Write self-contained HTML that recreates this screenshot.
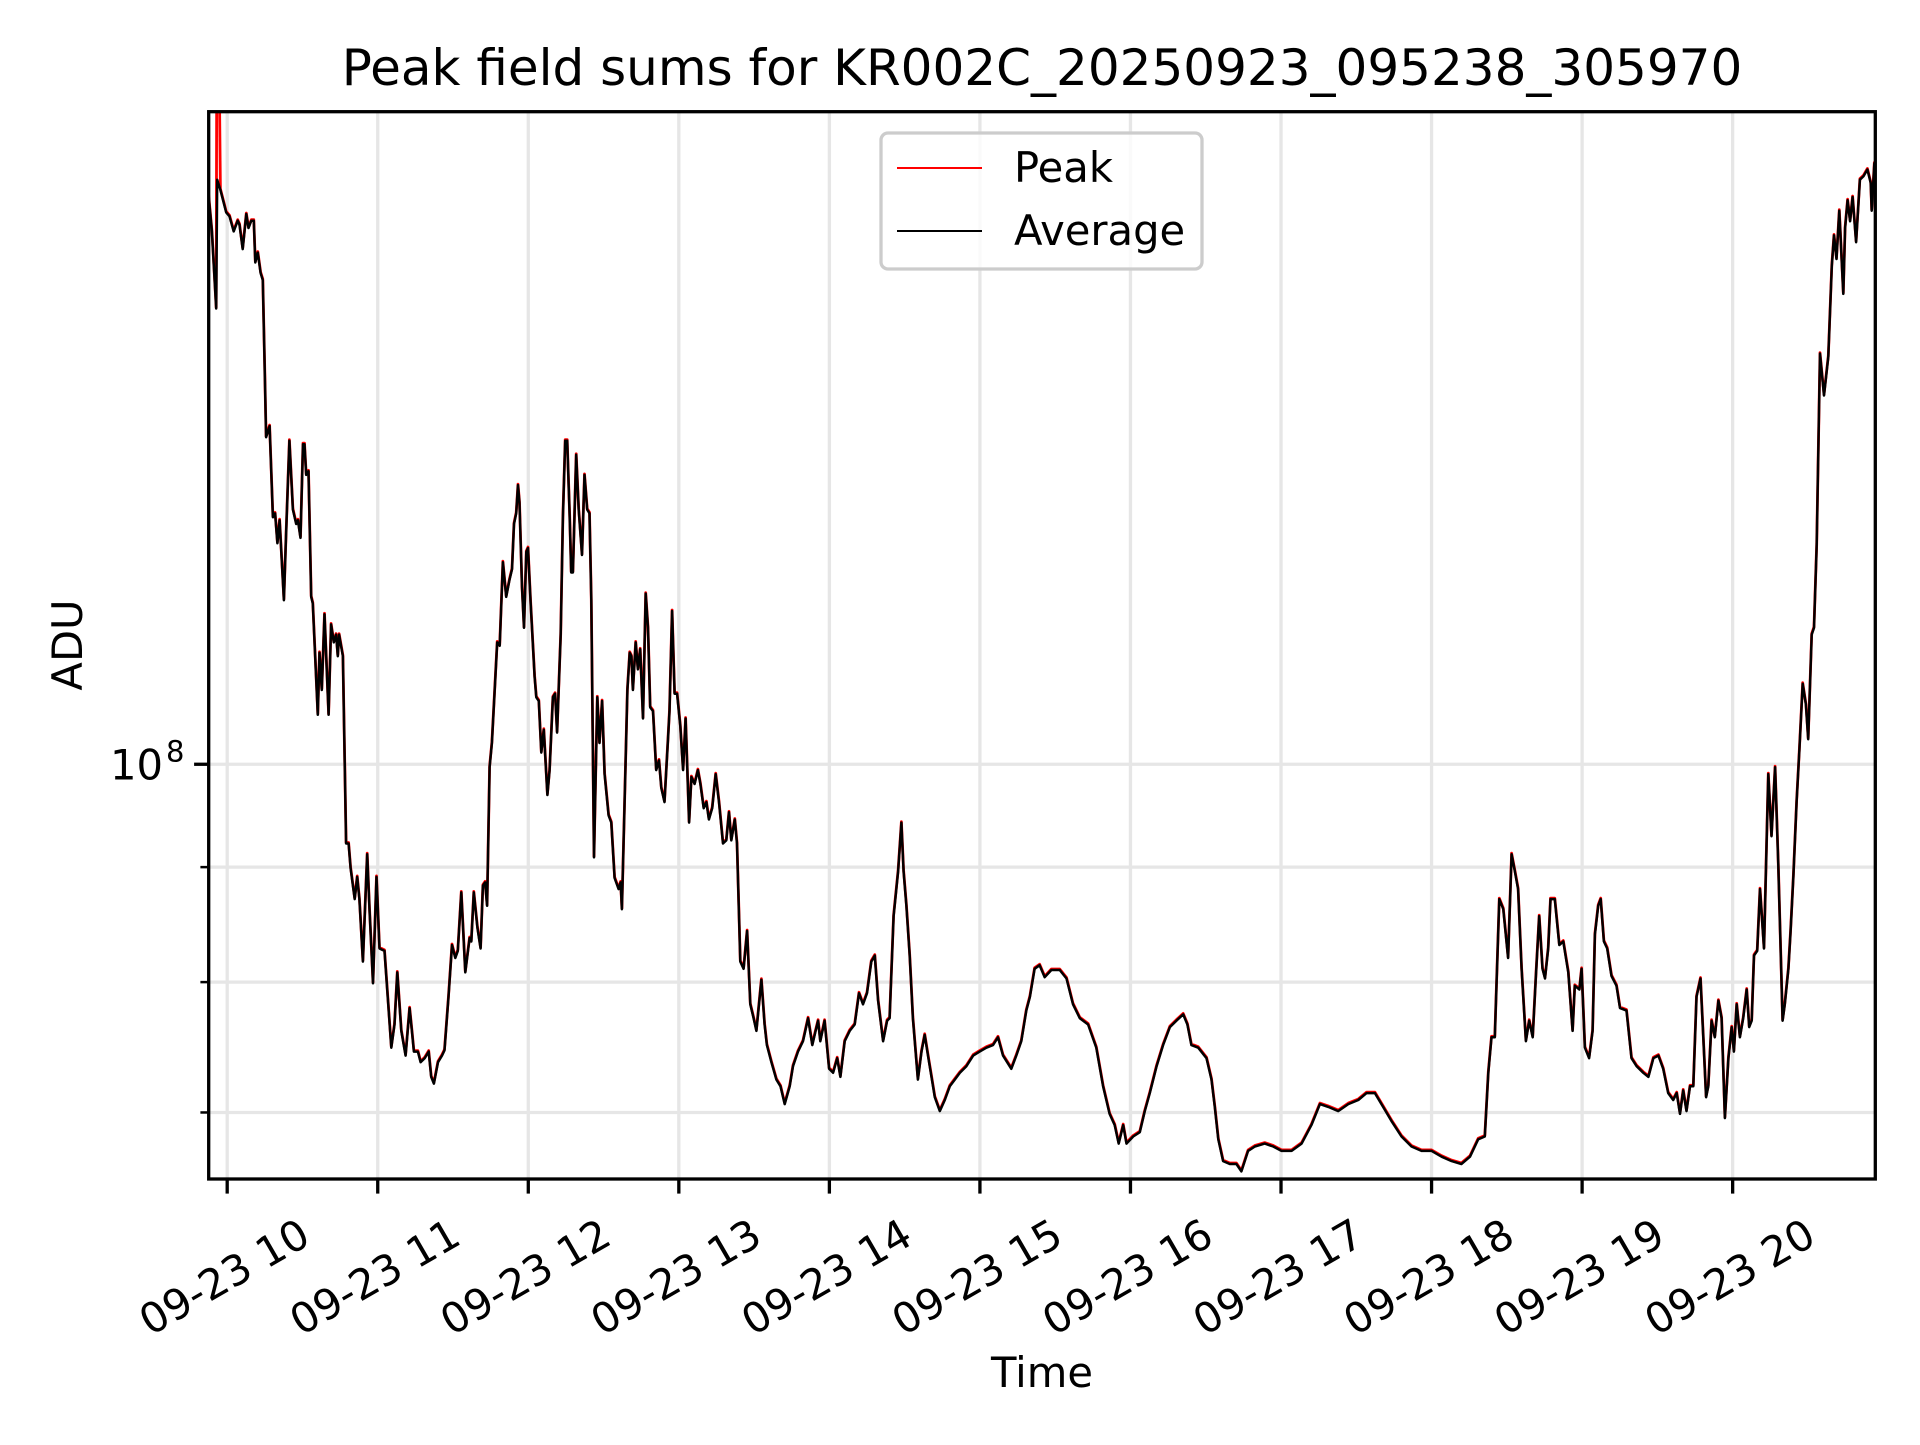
<!DOCTYPE html>
<html>
<head>
<meta charset="utf-8">
<style>
  html, body { margin: 0; padding: 0; background: #ffffff; }
  body { width: 1920px; height: 1440px; overflow: hidden; }
  svg text { font-family: "DejaVu Sans", "Liberation Sans", sans-serif; fill: #000; }
</style>
</head>
<body>
<svg id="chart" width="1920" height="1440" viewBox="0 0 1920 1440" xmlns="http://www.w3.org/2000/svg">
  <rect x="0" y="0" width="1920" height="1440" fill="#ffffff"/>
  <defs>
    <clipPath id="plotClip"><rect x="208.7" y="111.7" width="1666.6" height="1067.3"/></clipPath>
  </defs>
  <g id="grid"></g>
  <g id="series" clip-path="url(#plotClip)"></g>
  <rect x="208.7" y="111.7" width="1666.6" height="1067.3" fill="none" stroke="#000" stroke-width="3.3"/>
  <g id="xticks"></g>
  <g id="yticks"></g>
  <text x="1042" y="85" font-size="50" text-anchor="middle">Peak field sums for KR002C_20250923_095238_305970</text>
  <text x="1042" y="1387" font-size="41.7" text-anchor="middle">Time</text>
  <text x="0" y="0" font-size="41.7" text-anchor="middle" transform="translate(82,645) rotate(-90)">ADU</text>
  <g>
    <rect x="881" y="133" width="321" height="136" rx="7" ry="7" fill="#ffffff" fill-opacity="0.8" stroke="#cccccc" stroke-width="3.3"/>
    <line x1="897" y1="168" x2="982" y2="168" stroke="#ff0000" stroke-width="2"/>
    <text x="1014" y="182" font-size="41.7">Peak</text>
    <line x1="897" y1="231" x2="982" y2="231" stroke="#000000" stroke-width="2"/>
    <text x="1014" y="245" font-size="41.7">Average</text>
  </g>
</svg>
<script>
// time in minutes since 09:00 on 2025-09-23
const timesMin = [52.5,53.9,55.6,56.0,57.3,59.6,60.9,62.6,64.2,64.9,66.2,67.6,68.5,69.6,70.6,71.2,72.2,73.3,74.2,74.9,75.5,76.9,78.2,79.1,80.0,80.9,82.6,83.5,84.8,86.2,87.5,88.2,89.2,90.2,90.8,91.5,92.4,93.5,94.1,96.1,96.8,97.7,98.8,100.4,101.4,102.5,103.4,104.1,104.6,106.1,107.4,108.4,109.2,110.8,111.8,112.7,114.1,115.8,116.7,118.1,119.5,120.7,122.7,125.4,126.7,127.8,129.4,131.1,132.7,133.6,134.4,136.0,137.1,138.7,140.3,141.3,142.4,144.0,145.6,146.6,148.2,149.6,150.9,151.9,153.3,154.9,156.6,157.3,158.3,159.7,161.0,161.9,162.8,163.6,164.6,165.5,166.6,167.6,168.6,169.9,171.2,172.5,173.5,174.3,175.2,175.9,176.5,177.5,178.3,179.2,179.9,180.9,182.5,183.2,184.2,185.2,186.2,187.6,188.5,189.8,190.7,191.5,192.9,193.8,194.7,195.5,196.5,197.1,197.8,199.1,200.1,201.4,202.4,203.5,204.4,205.1,206.2,207.5,208.4,209.4,210.4,212.0,213.1,214.4,216.0,216.8,217.3,218.4,219.5,220.4,221.1,221.7,
222.8,223.7,224.6,225.7,226.8,227.7,228.6,229.7,231.0,232.1,233.0,234.3,235.7,236.3,237.3,238.3,239.3,240.6,241.7,242.7,244.1,245.0,246.3,247.6,248.6,249.9,251.0,252.0,253.3,254.7,256.0,257.6,258.9,260.0,260.9,262.3,263.2,264.5,265.8,267.2,268.5,269.8,270.9,272.9,274.2,275.1,276.9,278.9,280.5,282.2,284.2,285.5,287.5,289.5,291.5,293.2,294.5,295.5,296.4,298.1,299.9,301.5,303.1,304.4,306.1,308.1,310.1,311.8,313.4,315.0,316.7,318.1,319.4,321.4,323.0,324.0,325.6,327.4,328.7,329.6,330.7,332.0,333.3,335.3,336.7,338.0,339.3,340.7,342.0,344.0,346.0,348.0,350.0,352.0,354.6,357.3,359.9,362.6,365.2,367.2,369.2,372.5,374.5,376.5,378.5,379.9,381.8,383.8,385.8,388.5,391.8,
394.5,397.1,399.8,403.1,406.4,409.1,411.7,413.7,415.3,417.1,418.4,421.1,423.7,425.7,427.7,430.4,433.0,435.7,438.3,441.0,442.7,444.3,447.0,450.3,452.3,453.6,455.0,456.9,459.6,462.2,464.2,466.9,469.6,473.5,476.9,480.2,484.2,488.2,492.1,495.5,498.8,502.8,506.8,510.8,514.1,517.4,520.7,524.0,528.0,532.0,536.0,540.0,544.0,548.0,551.9,555.3,558.6,
561.2,562.6,563.9,565.2,567.0,568.6,570.5,571.9,573.2,574.5,575.9,577.6,578.9,580.3,581.6,582.9,584.2,585.2,586.5,587.4,589.1,590.9,592.5,594.5,596.2,597.1,598.9,599.8,601.1,602.8,604.2,605.1,606.4,607.4,608.7,610.0,611.7,613.7,615.1,617.7,619.7,621.7,624.4,626.4,628.4,630.4,632.3,634.3,636.3,637.7,639.0,640.3,641.6,643.0,644.3,645.6,647.2,648.3,649.4,650.3,651.6,652.9,654.3,655.6,656.9,658.3,659.6,660.5,661.6,662.9,664.2,665.6,666.6,667.6,668.5,669.8,670.9,672.5,674.2,675.5,676.9,678.2,679.9,680.8,682.2,683.1,684.2,685.5,686.6,687.9,689.2,690.1,691.5,692.4,693.5,694.8,696.4,698.1,699.5,700.4,701.4,702.5,704.1,704.8,705.8,706.8,707.8,709.2,710.7,712.1,713.7,715.0,715.4,716.5];
// average field sum in units of 1e7 ADU
const avgValues = [17.95,17.26,15.95,18.20,18.01,17.60,17.53,17.26,17.45,17.38,16.95,17.57,17.32,17.45,17.45,16.72,16.89,16.54,16.42,15.07,13.98,14.14,12.88,12.93,12.54,12.84,11.83,12.70,13.93,12.98,12.79,12.84,12.61,13.88,13.88,13.45,13.50,11.87,11.79,10.52,11.21,10.79,11.66,10.52,11.54,11.33,11.42,11.17,11.42,11.17,9.22,9.22,8.99,8.71,8.91,8.71,8.17,9.12,8.62,7.99,8.91,8.28,8.26,7.48,7.66,8.08,7.61,7.42,7.79,7.61,7.45,7.45,7.37,7.40,7.45,7.26,7.21,7.37,7.42,7.46,7.88,8.31,8.20,8.26,8.77,8.08,8.37,8.34,8.77,8.46,8.28,8.83,8.86,8.65,9.97,10.22,10.79,11.33,11.29,12.30,11.87,12.08,12.21,12.79,12.93,13.31,13.07,11.99,11.50,12.43,12.48,11.83,10.94,10.71,10.67,10.12,10.36,9.69,9.94,10.71,10.75,10.33,11.42,12.88,13.93,13.93,12.88,12.17,12.17,13.73,12.98,12.39,13.45,12.98,12.93,11.83,9.09,10.71,10.22,10.67,9.90,9.49,9.42,8.90,8.80,8.86,8.62,9.62,10.79,11.21,11.17,10.79,
11.33,11.02,11.25,10.48,11.91,11.50,10.60,10.56,9.94,10.04,9.76,9.62,10.26,10.56,11.70,10.75,10.75,10.40,9.94,10.48,9.42,9.87,9.80,9.94,9.80,9.56,9.62,9.45,9.56,9.90,9.62,9.22,9.25,9.52,9.25,9.45,9.22,8.17,8.11,8.43,7.82,7.71,7.61,8.02,7.66,7.50,7.37,7.24,7.19,7.06,7.19,7.34,7.45,7.53,7.71,7.50,7.61,7.69,7.53,7.69,7.32,7.29,7.40,7.26,7.53,7.61,7.66,7.91,7.82,7.91,8.17,8.22,7.85,7.53,7.69,7.71,8.56,8.96,9.42,8.96,8.65,8.22,7.71,7.24,7.45,7.58,7.42,7.26,7.11,7.01,7.09,7.19,7.24,7.29,7.34,7.42,7.45,7.48,7.50,7.56,7.42,7.32,7.42,7.53,7.77,7.88,8.11,8.14,8.04,8.10,8.10,
8.03,7.82,7.71,7.66,7.48,7.19,6.99,6.91,6.78,6.91,6.78,6.83,6.86,7.01,7.14,7.34,7.50,7.64,7.69,7.74,7.66,7.50,7.48,7.40,7.24,7.04,6.81,6.66,6.64,6.64,6.59,6.73,6.76,6.78,6.76,6.73,6.73,6.78,6.91,7.06,7.04,7.01,7.06,7.09,7.14,7.14,7.04,6.94,6.83,6.76,6.73,6.73,6.69,6.66,6.64,6.69,6.81,
6.83,7.29,7.56,7.56,8.71,8.62,8.20,9.12,8.96,8.80,8.11,7.53,7.69,7.56,8.05,8.56,8.11,8.03,8.28,8.71,8.71,8.31,8.34,8.08,7.61,7.97,7.94,8.11,7.48,7.40,7.61,8.40,8.65,8.71,8.34,8.28,8.05,7.97,7.79,7.77,7.40,7.34,7.29,7.26,7.40,7.42,7.32,7.14,7.09,7.14,6.99,7.16,7.01,7.19,7.19,7.88,8.03,7.56,7.11,7.19,7.69,7.56,7.85,7.71,6.96,7.40,7.64,7.45,7.82,7.56,7.71,7.94,7.64,7.69,8.22,8.26,8.80,8.28,9.90,9.29,9.97,9.02,7.69,7.82,8.11,8.43,8.92,9.62,10.15,10.86,10.63,10.26,11.42,11.50,12.52,15.23,14.59,15.18,16.66,17.19,16.78,17.63,16.19,17.32,17.82,17.44,17.88,17.07,18.20,18.26,18.39,18.14,17.63,18.52];
// peak series follows the average except the start-up spike
const peakSpikeIndex = [3];
const peakSpikeValue = [25.0];
const hourTickLabels = ["09-23 10","09-23 11","09-23 12","09-23 13","09-23 14","09-23 15","09-23 16","09-23 17","09-23 18","09-23 19","09-23 20"];
const hourTickMinutes = [60,120,180,240,300,360,420,480,540,600,660];
const yMajorTicks = [10];          // 1e8 in units of 1e7
const yMinorTicks = [7, 8, 9];     // 7e7, 8e7, 9e7
const UNIT = 1e7;

const peakValues = avgValues.slice();
peakSpikeIndex.forEach((idx, k) => { peakValues[idx] = peakSpikeValue[k]; });

const AX = {left: 208.7, right: 1875.3, top: 111.7, bottom: 1179};
const X_DOMAIN = [52.63, 716.85];
const Y_LOG_DOMAIN = [7.8155, 8.2903];
function xScale(m) { return AX.left + (m - X_DOMAIN[0]) / (X_DOMAIN[1] - X_DOMAIN[0]) * (AX.right - AX.left); }
function yScale(v) { const lg = Math.log10(v * UNIT); return AX.bottom - (lg - Y_LOG_DOMAIN[0]) / (Y_LOG_DOMAIN[1] - Y_LOG_DOMAIN[0]) * (AX.bottom - AX.top); }

const NS = "http://www.w3.org/2000/svg";
function mk(tag, attrs, parent) { const e = document.createElementNS(NS, tag); for (const k in attrs) e.setAttribute(k, attrs[k]); parent.appendChild(e); return e; }

const grid = document.getElementById('grid');
const xt = document.getElementById('xticks');
const yt = document.getElementById('yticks');
const series = document.getElementById('series');

hourTickMinutes.forEach((m, i) => {
  const x = xScale(m);
  const g = mk('line', {x1: x, y1: AX.top, x2: x, y2: AX.bottom, stroke: '#e6e6e6', 'stroke-width': 3.3}, grid);
  
  
  const t = mk('line', {x1: x, y1: AX.bottom, x2: x, y2: AX.bottom + 14.6, stroke: '#000', 'stroke-width': 3.3}, xt);
  
  
  const lab = mk('text', {x: 0, y: 0, 'font-size': 41.7, 'text-anchor': 'middle', 'dominant-baseline': 'central', transform: 'translate(' + (x - 3) + ',1277) rotate(-30)'}, xt);
  lab.textContent = hourTickLabels[i];
  
  
});

yMinorTicks.concat(yMajorTicks).forEach(v => {
  const y = yScale(v);
  const g = mk('line', {x1: AX.left, y1: y, x2: AX.right, y2: y, stroke: '#e6e6e6', 'stroke-width': 3.3}, grid);
  
  
});
yMinorTicks.forEach(v => {
  const y = yScale(v);
  const t = mk('line', {x1: AX.left - 8.3, y1: y, x2: AX.left, y2: y, stroke: '#000', 'stroke-width': 2.5}, yt);
  
  
});
yMajorTicks.forEach(v => {
  const y = yScale(v);
  const t = mk('line', {x1: AX.left - 14.6, y1: y, x2: AX.left, y2: y, stroke: '#000', 'stroke-width': 3.3}, yt);
  
  
  const lab = mk('text', {x: 163, y: y + 15, 'font-size': 41.7, 'text-anchor': 'end'}, yt);
  
  
  lab.textContent = '10';
  const sup = mk('text', {x: 166, y: y - 3, 'font-size': 29}, yt);
  
  
  sup.textContent = String(Math.round(Math.log10(v * UNIT)));
});

function pathFor(vals) {
  return timesMin.map((m, i) => (i ? 'L' : 'M') + xScale(m).toFixed(1) + ',' + yScale(vals[i]).toFixed(1)).join(' ');
}
const peakPath = mk('path', {d: pathFor(peakValues), fill: 'none', stroke: '#ff0000', 'stroke-width': 2.8, 'stroke-linejoin': 'round', transform: 'translate(0,-1)'}, series);


const avgPath = mk('path', {d: pathFor(avgValues), fill: 'none', stroke: '#000000', 'stroke-width': 2.5, 'stroke-linejoin': 'round'}, series);


</script>
</body>
</html>
